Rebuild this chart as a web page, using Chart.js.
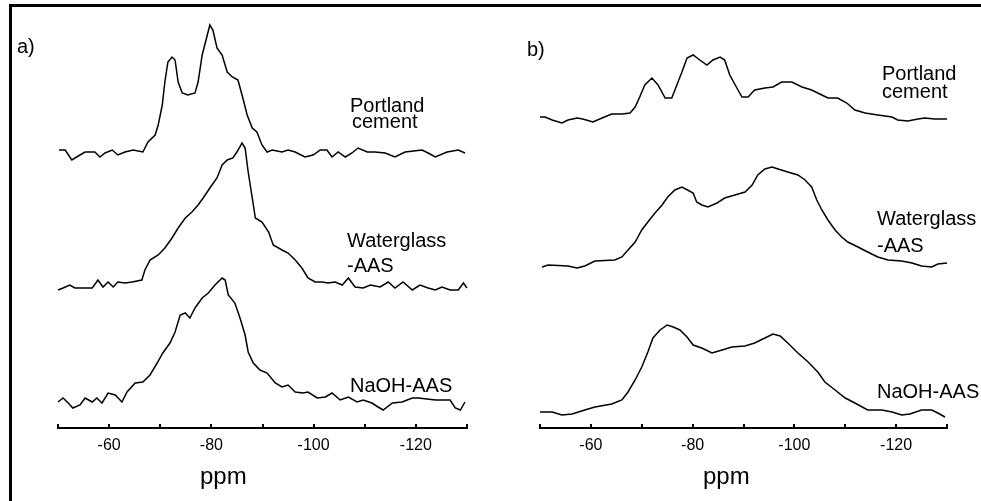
<!DOCTYPE html>
<html>
<head>
<meta charset="utf-8">
<script src="https://cdn.jsdelivr.net/npm/chart.js@4.4.1/dist/chart.umd.min.js"></script>
<style>
  body { margin: 0; background: #fff; }
  #wrap { position: relative; width: 981px; height: 501px; overflow: hidden; font-family: Arial, "Liberation Sans", sans-serif; }
  canvas { position: absolute; top: 0; }
  #chartA { left: 0; }
  #chartB { left: 490px; }
  .frame { position: absolute; left: 9px; top: 4px; width: 990px; height: 530px; border: 3px solid #000; box-sizing: border-box; pointer-events: none; }
  .lbl { position: absolute; font-size: 20px; line-height: 20px; white-space: nowrap; color: #000; }
  .unit { position: absolute; font-size: 24px; line-height: 24px; color: #000; }
</style>
</head>
<body>
<div id="wrap">
  <canvas id="chartA" width="490" height="501"></canvas>
  <canvas id="chartB" width="491" height="501"></canvas>
  <div class="frame"></div>

  <div class="lbl" style="left:17px;top:36px">a)</div>
  <div class="lbl" style="left:350px;top:95px">Portland</div>
  <div class="lbl" style="left:352px;top:111px">cement</div>
  <div class="lbl" style="left:347px;top:230px">Waterglass</div>
  <div class="lbl" style="left:347px;top:255px">-AAS</div>
  <div class="lbl" style="left:350px;top:375px">NaOH-AAS</div>
  <div class="unit" style="left:200px;top:464px">ppm</div>

  <div class="lbl" style="left:527px;top:39px">b)</div>
  <div class="lbl" style="left:882px;top:63px">Portland</div>
  <div class="lbl" style="left:882px;top:81px">cement</div>
  <div class="lbl" style="left:877px;top:208px">Waterglass</div>
  <div class="lbl" style="left:877px;top:235px">-AAS</div>
  <div class="lbl" style="left:877px;top:381px">NaOH-AAS</div>
  <div class="unit" style="left:703px;top:464px">ppm</div>
</div>

<script>
// ppm axis
const tickLabels = [-60, -80, -100, -120];
const tickStops = [-50, -60, -70, -80, -90, -100, -110, -120, -130];

// spectra as [ppm, intensity] (panel a)
const aPortland = [
  [-50.2, 2], [-51.4, 2], [-52.7, -8], [-54.3, -3], [-55.3, 0], [-57.2, 0], [-58.2, -5], [-59.2, -1],
  [-60.6, 2], [-61.7, -3], [-63.1, 0], [-64.7, 2], [-66.6, 0], [-67.6, 10], [-69.0, 17], [-69.6, 27],
  [-70.4, 47], [-70.9, 70], [-71.5, 90], [-72.3, 95], [-72.9, 92], [-73.5, 70], [-74.3, 59], [-75.4, 57],
  [-76.8, 59], [-77.4, 70], [-78.2, 97], [-79.2, 117], [-79.7, 127], [-80.3, 122], [-81.1, 104], [-82.1, 97],
  [-83.1, 80], [-84.1, 75], [-85.2, 72], [-86.0, 57], [-87.0, 37], [-88.0, 24], [-88.9, 20], [-89.9, 7],
  [-90.9, 0], [-91.9, 2], [-93.8, 0], [-95.0, 2], [-96.4, 0], [-98.3, -5], [-99.9, -3], [-101.3, 2],
  [-102.6, 2], [-103.6, -5], [-104.8, 0], [-106.2, -5], [-107.5, -1], [-108.7, 4], [-110.5, 0], [-112.0, 0],
  [-114.0, -1], [-115.9, -5], [-117.9, 0], [-121.2, 2], [-122.4, -1], [-123.8, -5], [-126.1, 0], [-128.3, 2],
  [-129.6, -1]
];
const aWaterglass = [
  [-50.0, -2], [-51.0, 0], [-52.3, 3], [-53.3, 0], [-56.7, 0], [-57.8, 8], [-58.8, 1], [-59.8, 6],
  [-60.8, 1], [-61.7, 6], [-63.1, 5], [-64.5, 6], [-66.4, 8], [-67.0, 18], [-68.0, 28], [-69.6, 33],
  [-70.9, 40], [-72.3, 50], [-73.5, 60], [-74.9, 70], [-76.2, 76], [-77.4, 83], [-78.4, 90], [-79.7, 100],
  [-81.1, 110], [-82.1, 123], [-83.1, 128], [-84.2, 130], [-85.0, 136], [-86.0, 145], [-86.6, 140], [-87.2, 116],
  [-88.0, 90], [-88.6, 70], [-89.9, 66], [-91.2, 56], [-92.1, 43], [-93.8, 38], [-95.0, 35], [-96.4, 28],
  [-97.7, 20], [-98.9, 10], [-100.3, 6], [-101.7, 6], [-102.8, 5], [-104.2, 6], [-105.6, 3], [-106.8, 10],
  [-108.1, 1], [-109.7, 0], [-111.1, 3], [-113.0, 1], [-114.6, 6], [-115.9, 0], [-117.5, 6], [-119.3, -2],
  [-120.8, 3], [-122.4, 0], [-123.8, -2], [-125.1, 1], [-126.7, -2], [-128.3, -2], [-129.3, 5], [-130.0, 0]
];
const aNaOH = [
  [-50.0, -2], [-51.0, 2], [-52.0, -3], [-52.9, -8], [-54.3, -5], [-55.3, 2], [-56.7, -2], [-57.6, 2],
  [-58.6, -3], [-59.8, 7], [-61.2, 5], [-62.5, -2], [-63.5, 8], [-65.1, 17], [-66.6, 18], [-68.0, 25],
  [-69.4, 37], [-70.5, 47], [-71.9, 57], [-72.9, 68], [-73.9, 85], [-74.9, 87], [-75.8, 82], [-76.8, 92],
  [-78.2, 102], [-79.4, 107], [-80.7, 115], [-82.1, 122], [-82.7, 120], [-83.3, 105], [-84.6, 97], [-85.6, 82],
  [-86.6, 65], [-87.2, 48], [-88.2, 37], [-89.5, 30], [-90.9, 27], [-92.5, 17], [-93.8, 13], [-95.0, 15],
  [-96.4, 8], [-97.9, 7], [-98.9, 8], [-100.7, 2], [-102.3, 3], [-103.6, 7], [-105.2, 0], [-106.8, 3],
  [-108.5, -2], [-109.7, 0], [-111.4, -3], [-112.6, -7], [-113.6, -10], [-115.4, -3], [-117.3, -2], [-119.3, 2],
  [-120.5, 2], [-123.8, 0], [-126.7, 0], [-127.7, -8], [-128.7, -10], [-129.6, -2]
];

// panel b
const bPortland = [
  [-50.0, 2], [-51.0, 2], [-52.4, -1], [-54.3, -4], [-55.5, -1], [-57.3, 1], [-58.4, 0], [-60.4, -3],
  [-62.2, 1], [-64.1, 5], [-66.1, 5], [-67.7, 6], [-68.7, 12], [-69.6, 22], [-70.6, 34], [-72.0, 41],
  [-73.2, 34], [-74.6, 21], [-75.9, 21], [-76.9, 34], [-77.9, 47], [-78.9, 61], [-80.1, 64], [-81.4, 59],
  [-82.8, 54], [-84.0, 59], [-85.4, 62], [-86.3, 59], [-87.3, 44], [-88.7, 31], [-89.7, 22], [-90.9, 22],
  [-92.2, 29], [-94.2, 31], [-95.8, 32], [-97.5, 37], [-99.5, 37], [-101.5, 32], [-103.4, 29], [-105.4, 24],
  [-106.6, 21], [-108.5, 21], [-110.3, 16], [-111.9, 9], [-113.9, 6], [-116.4, 4], [-119.2, 2], [-120.3, -1],
  [-122.3, -2], [-124.3, 0], [-125.6, 1], [-127.6, 0], [-130.0, 0]
];
const bWaterglass = [
  [-50.4, -2], [-51.6, 0], [-55.5, -1], [-57.3, -3], [-58.8, -1], [-60.8, 4], [-64.7, 5], [-66.1, 8],
  [-67.3, 15], [-68.7, 23], [-70.0, 35], [-71.2, 43], [-72.6, 52], [-74.0, 60], [-75.1, 68], [-76.5, 75],
  [-77.9, 78], [-79.0, 75], [-80.1, 72], [-80.8, 63], [-81.8, 60], [-83.0, 58], [-84.8, 62], [-86.3, 67],
  [-88.3, 70], [-90.3, 73], [-91.7, 80], [-92.8, 90], [-94.2, 96], [-95.6, 98], [-96.8, 96], [-98.7, 93],
  [-100.7, 90], [-102.1, 85], [-103.4, 78], [-104.4, 65], [-105.4, 55], [-106.6, 45], [-108.0, 35], [-109.3, 28],
  [-110.5, 23], [-112.5, 18], [-114.4, 13], [-116.4, 8], [-118.4, 5], [-121.1, 4], [-123.1, 2], [-125.0, -1],
  [-127.0, -2], [-128.2, 1], [-130.0, 2]
];
const bNaOH = [
  [-50.0, 0], [-52.4, 0], [-54.3, -3], [-56.3, -2], [-58.8, 2], [-60.8, 5], [-64.1, 8], [-66.1, 12],
  [-67.3, 20], [-68.7, 32], [-70.0, 45], [-71.2, 60], [-72.2, 74], [-73.6, 82], [-75.0, 87], [-76.2, 85],
  [-77.5, 82], [-78.9, 75], [-80.1, 67], [-81.8, 64], [-83.8, 59], [-85.8, 62], [-87.7, 65], [-90.3, 66],
  [-92.2, 69], [-94.2, 74], [-95.8, 78], [-97.2, 76], [-98.7, 69], [-100.7, 59], [-102.7, 50], [-104.6, 40],
  [-106.0, 30], [-108.0, 22], [-110.0, 14], [-111.9, 9], [-114.4, 2], [-117.2, 2], [-119.2, 0], [-121.1, -3],
  [-122.7, -2], [-125.0, 2], [-127.0, 2], [-128.2, -1], [-129.6, -5]
];

// vertical shift of each trace so they stack
const offsetsA = [276, 140, 28];
const offsetsB = [309, 163, 16];

Chart.defaults.font.family = 'Arial, "Liberation Sans", sans-serif';
Chart.defaults.color = '#000';

const tickMarks = {
  id: 'tickMarks',
  afterDraw(chart) {
    const { ctx, chartArea } = chart;
    const x = chart.scales.x;
    ctx.save();
    ctx.strokeStyle = '#000';
    ctx.lineWidth = 2;
    ctx.beginPath();
    tickStops.forEach(v => {
      const px = Math.round(x.getPixelForValue(v));
      ctx.moveTo(px, chartArea.bottom);
      ctx.lineTo(px, chartArea.bottom - 4);
    });
    ctx.stroke();
    ctx.restore();
  }
};

function makeSpectra(id, series, offsets, pad) {
  return new Chart(document.getElementById(id), {
    type: 'line',
    data: {
      datasets: series.map((s, i) => ({
        data: s.map(p => ({ x: p[0], y: p[1] + offsets[i] })),
        borderColor: '#000',
        borderWidth: 1.5,
        pointRadius: 0,
        tension: 0,
        fill: false,
        clip: false
      }))
    },
    options: {
      responsive: false,
      animation: false,
      devicePixelRatio: 1,
      layout: { padding: pad },
      plugins: { legend: { display: false }, tooltip: { enabled: false } },
      scales: {
        x: {
          type: 'linear',
          min: -130,
          max: -50,
          reverse: true,
          afterBuildTicks: s => { s.ticks = tickLabels.map(v => ({ value: v })); },
          afterFit: s => { s.height = 73; },
          grid: { display: false },
          border: { display: true, color: '#000', width: 2 },
          ticks: { color: '#000', font: { size: 16 }, padding: 0, maxRotation: 0, autoSkip: false }
        },
        y: { display: false, min: 0, max: 413 }
      }
    },
    plugins: [tickMarks]
  });
}

makeSpectra('chartA', [aPortland, aWaterglass, aNaOH], offsetsA, { left: 58, right: 23, top: 15, bottom: 0 });
makeSpectra('chartB', [bPortland, bWaterglass, bNaOH], offsetsB, { left: 50, right: 34, top: 15, bottom: 0 });
</script>
</body>
</html>
